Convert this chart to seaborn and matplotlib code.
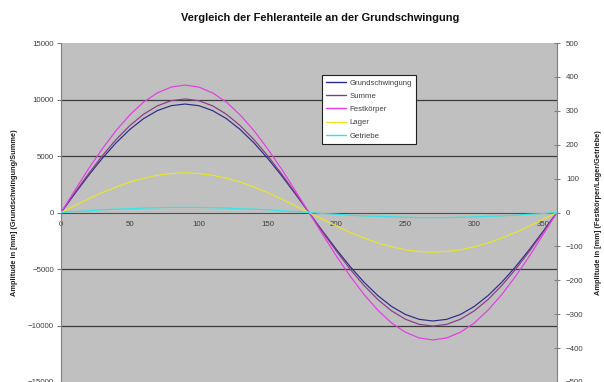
import numpy as np
import pandas as pd
import seaborn as sns
import matplotlib.pyplot as plt
from matplotlib.lines import Line2D

winkel = list(range(0, 361, 10))

# linke Achse (Grundschwingung/Summe), Amplitude in mm
grundschwingung = [0, 1667, 3283, 4800, 6171, 7354, 8314, 9021, 9454, 9600,
                   9454, 9021, 8314, 7354, 6171, 4800, 3283, 1667, 0,
                   -1667, -3283, -4800, -6171, -7354, -8314, -9021, -9454, -9600,
                   -9454, -9021, -8314, -7354, -6171, -4800, -3283, -1667, 0]
summe = [0, 1745, 3437, 5025, 6460, 7699, 8704, 9444, 9897, 10050,
         9897, 9444, 8704, 7699, 6460, 5025, 3437, 1745, 0,
         -1745, -3437, -5025, -6460, -7699, -8704, -9444, -9897, -10050,
         -9897, -9444, -8704, -7699, -6460, -5025, -3437, -1745, 0]

# rechte Achse (Festkörper/Lager/Getriebe)
festkoerper = [0, 65, 129, 188, 242, 288, 326, 353, 370, 376,
               370, 353, 326, 288, 242, 188, 129, 65, 0,
               -65, -129, -188, -242, -288, -326, -353, -370, -376,
               -370, -353, -326, -288, -242, -188, -129, -65, 0]
lager = [0, 20, 40, 59, 75, 90, 101, 110, 115, 117,
         115, 110, 101, 90, 75, 59, 40, 20, 0,
         -20, -40, -59, -75, -90, -101, -110, -115, -117,
         -115, -110, -101, -90, -75, -59, -40, -20, 0]
getriebe = [0, 3, 5, 8, 10, 11, 13, 14, 15, 15,
            15, 14, 13, 11, 10, 8, 5, 3, 0,
            -3, -5, -8, -10, -11, -13, -14, -15, -15,
            -15, -14, -13, -11, -10, -8, -5, -3, 0]

namen = ['Grundschwingung', 'Summe', 'Festkörper', 'Lager', 'Getriebe']
farben = ['#2a2a8c', '#8a3a8a', '#e43ce4', '#e6e626', '#2ee4e4']

x_ticks = [0, 50, 100, 150, 200, 250, 300, 350]
y_ticks_links = [-15000, -10000, -5000, 0, 5000, 10000, 15000]
y_ticks_rechts = [-500, -400, -300, -200, -100, 0, 100, 200, 300, 400, 500]

sns.set_style('white')
plt.rcParams['font.family'] = ['Liberation Sans', 'DejaVu Sans']

fig = plt.figure(figsize=(6.04, 3.82), dpi=100)
ax = fig.add_axes([0.101, 0.0, 0.821, 0.8874])
ax.set_facecolor('#c0c0c0')

# Gitterlinien
for y in [-10000, -5000, 5000, 10000]:
    ax.axhline(y, color='#3c3c3c', lw=0.9, zorder=1)

lw = 0.85
df_l = pd.DataFrame({'Winkel': winkel, 'Grundschwingung': grundschwingung, 'Summe': summe})
sns.lineplot(data=df_l, x='Winkel', y='Grundschwingung', ax=ax, color=farben[0], lw=lw, zorder=3)
sns.lineplot(data=df_l, x='Winkel', y='Summe', ax=ax, color=farben[1], lw=lw, zorder=3)

ax.set_xlim(0, 360)
ax.set_ylim(-15000, 15000)
ax.set_xticks(x_ticks)
ax.set_yticks(y_ticks_links)
ax.spines['bottom'].set_position(('data', 0))
ax.spines['bottom'].set_color('#505050')
ax.spines['bottom'].set_zorder(2)
ax.spines['left'].set_color('#808080')
ax.spines['top'].set_visible(False)
ax.spines['right'].set_visible(False)
ax.tick_params(axis='x', direction='inout', length=4, width=0.8, colors='#505050',
               labelsize=5.7, labelcolor='#404040', pad=4)
ax.tick_params(axis='y', direction='out', length=3, width=0.8, colors='#808080',
               labelsize=5.7, labelcolor='#404040', pad=2)
ax.set_xlabel('')
ax.set_ylabel('Amplitude in [mm] (Grundschwingung/Summe)', fontsize=5.3,
              fontweight='bold', color='#202020', labelpad=7)

ax2 = ax.twinx()
df_r = pd.DataFrame({'Winkel': winkel, 'Festkörper': festkoerper, 'Lager': lager, 'Getriebe': getriebe})
sns.lineplot(data=df_r, x='Winkel', y='Festkörper', ax=ax2, color=farben[2], lw=lw)
sns.lineplot(data=df_r, x='Winkel', y='Lager', ax=ax2, color=farben[3], lw=lw)
sns.lineplot(data=df_r, x='Winkel', y='Getriebe', ax=ax2, color=farben[4], lw=lw)
ax2.set_ylim(-500, 500)
ax2.set_yticks(y_ticks_rechts)
for s in ['top', 'left', 'bottom']:
    ax2.spines[s].set_visible(False)
ax2.spines['right'].set_color('#808080')
ax2.tick_params(axis='y', direction='inout', length=5, width=0.8, colors='#808080',
                labelsize=5.7, labelcolor='#404040', pad=4)
ax2.set_xlabel('')
ax2.set_ylabel('Amplitude in [mm] (Festkörper/Lager/Getriebe)', fontsize=5.3,
               fontweight='bold', color='#202020', labelpad=8)

fig.text(0.530, 0.953, 'Vergleich der Fehleranteile an der Grundschwingung',
         ha='center', va='center', fontsize=7.9, fontweight='bold', color='#101010')

handles = [Line2D([], [], color=c, lw=1.0) for c in farben]
leg = ax2.legend(handles, namen, loc='upper left', bbox_to_anchor=(0.526, 0.906),
                 borderaxespad=0, fontsize=5.6, frameon=True, fancybox=False,
                 handlelength=2.6, handletextpad=0.4, labelspacing=0.75,
                 borderpad=0.55, framealpha=1)
leg.get_frame().set_edgecolor('#202020')
leg.get_frame().set_linewidth(0.8)
for t in leg.get_texts():
    t.set_color('#404040')

fig.savefig('out.png', dpi=100)
